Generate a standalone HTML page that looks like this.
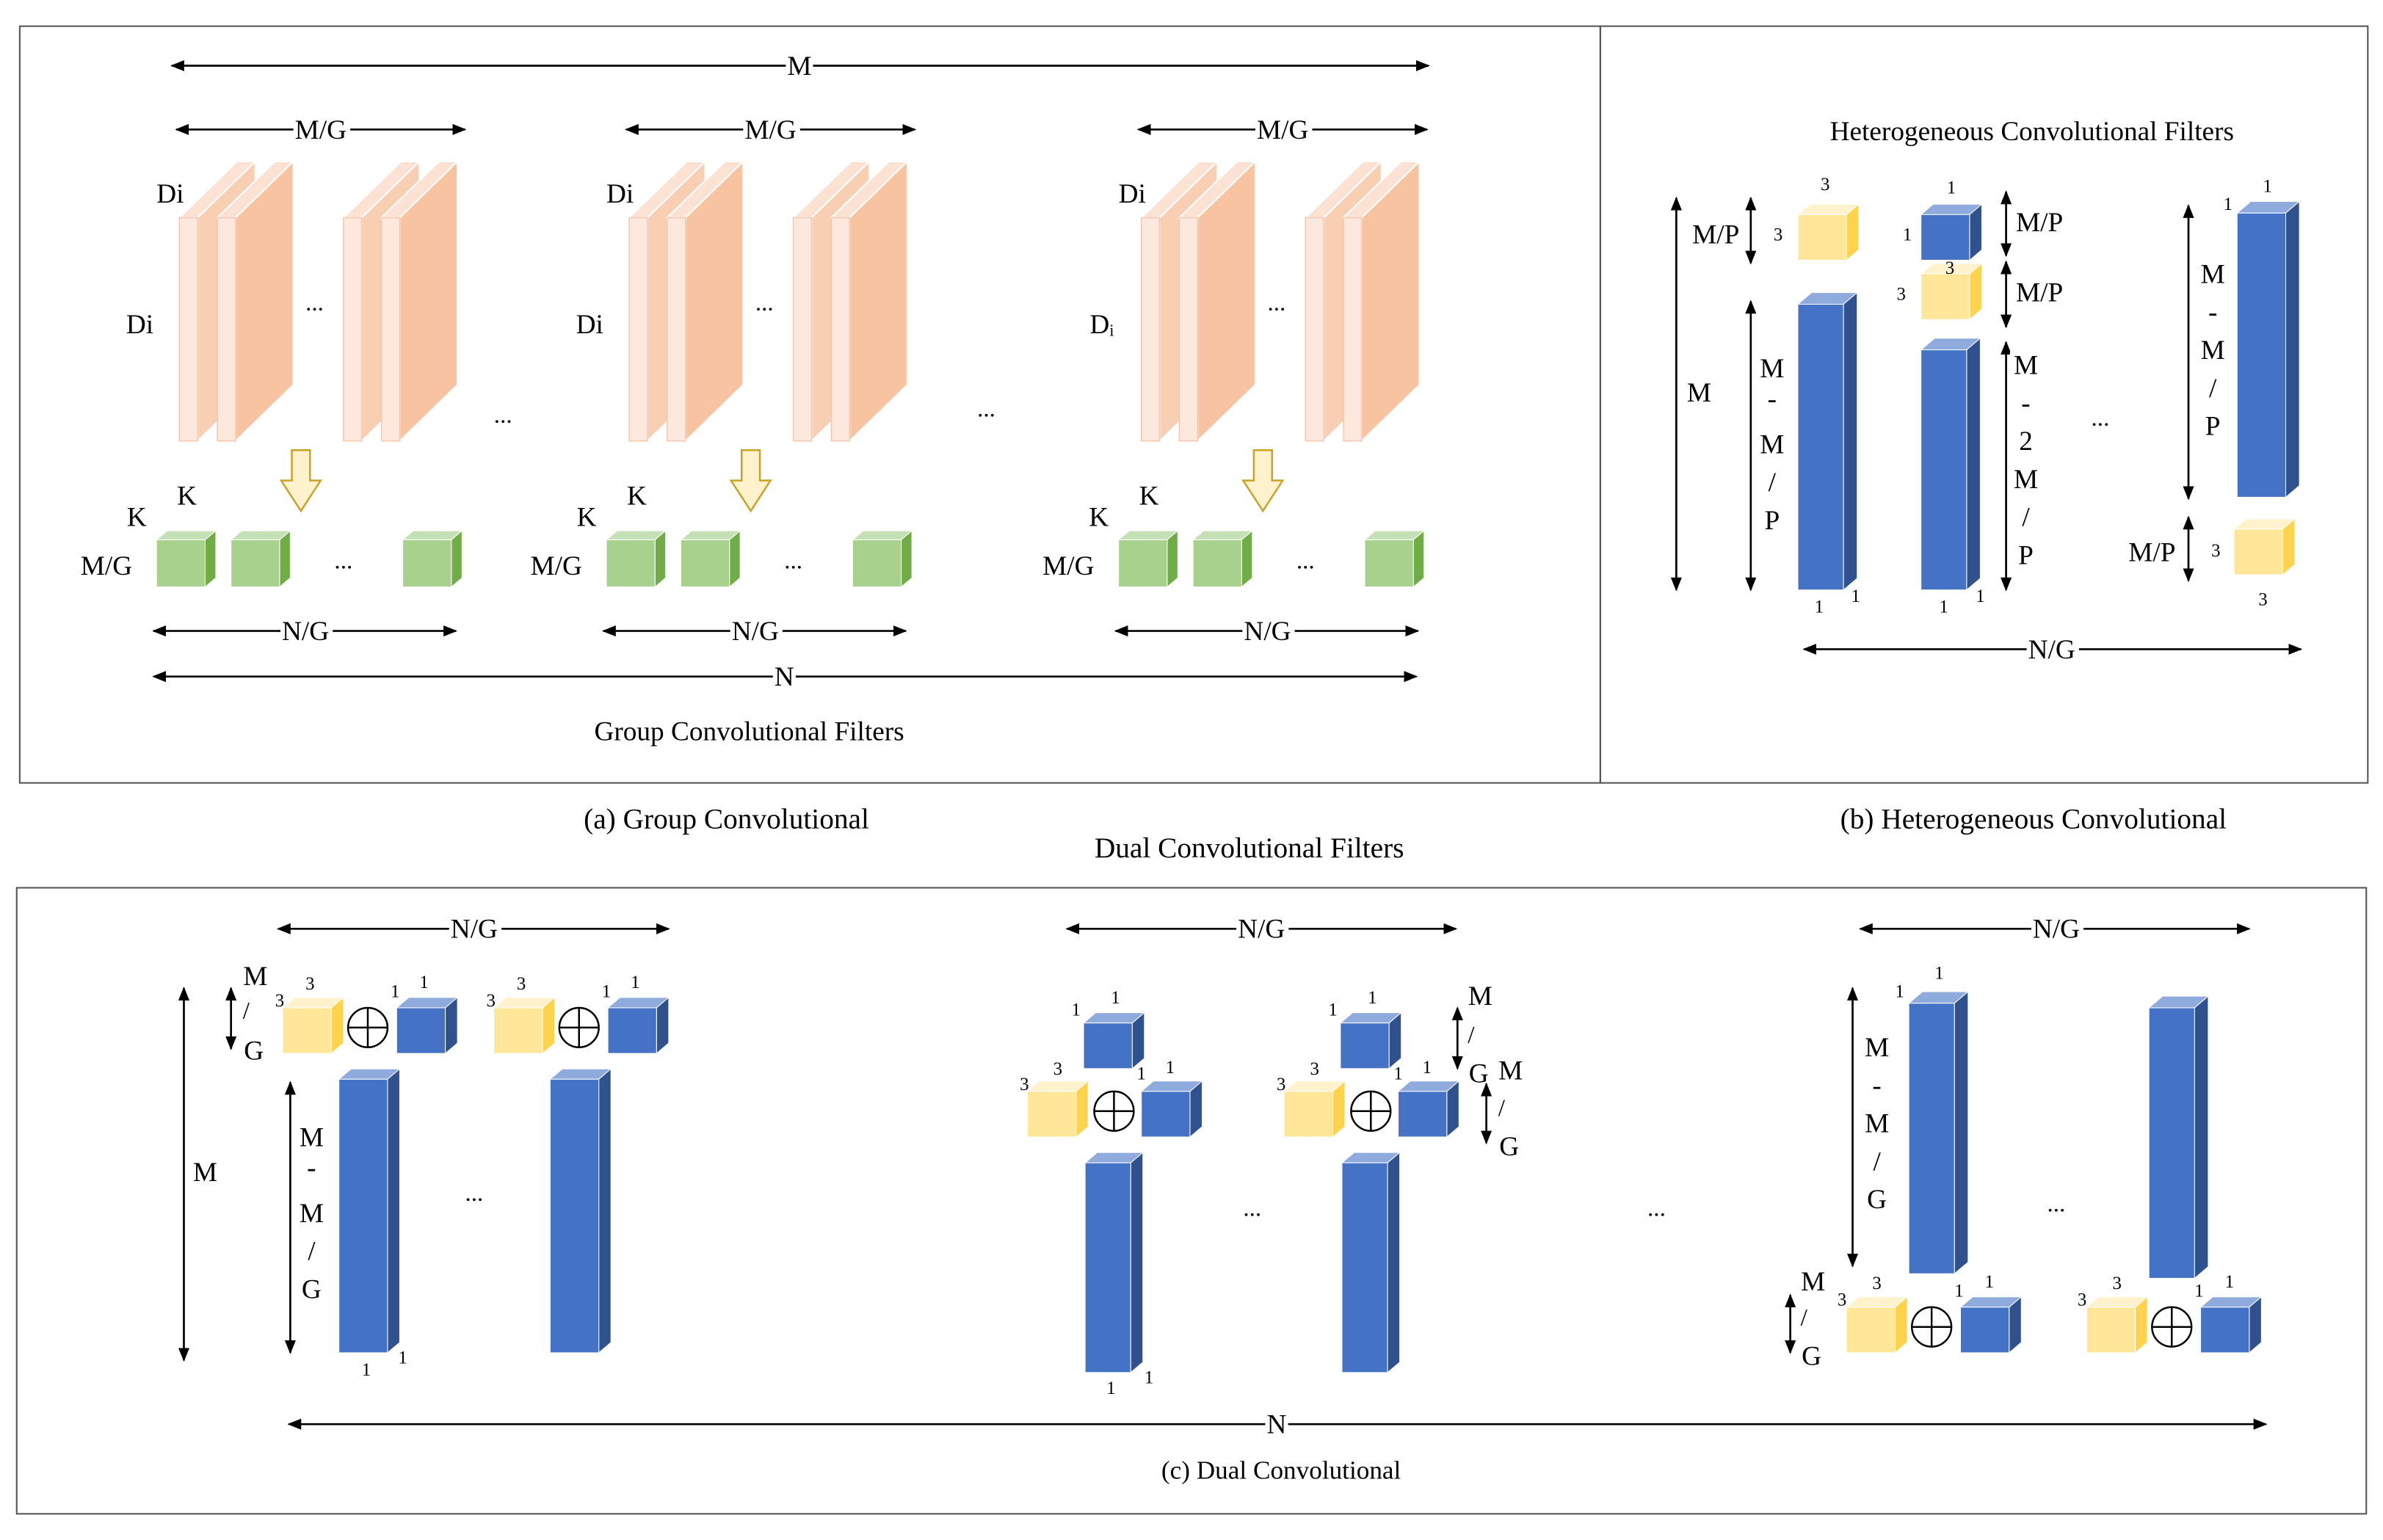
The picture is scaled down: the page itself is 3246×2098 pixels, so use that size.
<!DOCTYPE html>
<html><head><meta charset="utf-8"><style>
html,body{margin:0;padding:0;background:#fff}
svg{display:block}
text{font-family:"Liberation Serif",serif;fill:#000}
</style></head><body>
<svg id="fig" width="3246" height="2098" viewBox="0 0 1568 1013" xmlns="http://www.w3.org/2000/svg">
<defs>
<marker id="ah" viewBox="0 0 10 10" refX="9" refY="5" markerWidth="7" markerHeight="7" orient="auto-start-reverse"><path d="M0,1 L10,5 L0,9 z" fill="#000"/></marker>
</defs>
<rect x="13" y="17" width="1040" height="498" fill="none" stroke="#555" stroke-width="1"/>
<rect x="1053" y="17" width="505" height="498" fill="none" stroke="#555" stroke-width="1"/>
<rect x="11" y="584" width="1546" height="412" fill="none" stroke="#555" stroke-width="1"/>
<g id="g"></g>
</svg>
<script>
const NS="http://www.w3.org/2000/svg";
const root=document.getElementById('g');
function el(t,a,name){const e=document.createElementNS(NS,t);for(const k in a)e.setAttribute(k,a[k]);


root.appendChild(e);return e;}
function txt(x,y,s,size,anchor,name,halo){const a={x:x,y:y,'font-size':size||18,'text-anchor':anchor||'middle','font-family':'Liberation Serif, serif'};
if(halo){a.stroke='#fff';a['stroke-width']=6;a['paint-order']='stroke';}
const e=el('text',a,name||'label');e.textContent=s;return e;}
function arrow(x1,y1,x2,y2,name){return el('line',{x1:x1,y1:y1,x2:x2,y2:y2,stroke:'#000','stroke-width':1.3,'marker-start':'url(#ah)','marker-end':'url(#ah)'},name||'dimension-arrow');}
const C={blue:['#4472c4','#8faadc','#2f528f'],yel:['#ffe699','#fff2cc','#ffd34d'],grn:['#a9d18e','#c5e0b4','#70ad47']};
function cube(x,y,w,h,d,c,name){const [f,t,s]=C[c];const dy=d*0.85;
el('polygon',{points:`${x},${y} ${x+d},${y-dy} ${x+w+d},${y-dy} ${x+w},${y}`,fill:t,stroke:'#fff','stroke-width':0.5},name+'-top');
el('polygon',{points:`${x+w},${y} ${x+w+d},${y-dy} ${x+w+d},${y+h-dy} ${x+w},${y+h}`,fill:s,stroke:'#fff','stroke-width':0.5},name+'-side');
el('rect',{x:x,y:y,width:w,height:h,fill:f,stroke:'#fff','stroke-width':0.5},name);}
function oplus(cx,cy,name){el('circle',{cx:cx,cy:cy,r:13,fill:'#fff',stroke:'#000','stroke-width':1.2},name);
el('line',{x1:cx-13,y1:cy,x2:cx+13,y2:cy,stroke:'#000','stroke-width':1.2},name+'-h');
el('line',{x1:cx,y1:cy-13,x2:cx,y2:cy+13,stroke:'#000','stroke-width':1.2},name+'-v');}
function slab(x,y,last,name){
el('polygon',{points:`${x+12},${y} ${x+50},${y-37} ${x+50},${y+110} ${x+12},${y+147}`,fill:last?'#f8c3a0':'#f9cfb3',stroke:'#fff','stroke-width':1},name+'-side');
el('polygon',{points:`${x},${y} ${x+38},${y-37} ${x+50},${y-37} ${x+12},${y}`,fill:'#fbe2d3',stroke:'#fff','stroke-width':1},name+'-top');
el('rect',{x:x,y:y,width:12,height:147,fill:'#fce8dc',stroke:'#f3c7ae','stroke-width':0.7},name+'-front');}
function downArrow(x,y,name){el('polygon',{points:`${x-6},${y} ${x+6},${y} ${x+6},${y+20} ${x+13},${y+20} ${x},${y+40} ${x-13},${y+20} ${x-6},${y+20}`,fill:'#fff2cc',stroke:'#c9a227','stroke-width':1.2},name);}

// ---------- Panel (a)
arrow(113,43,940,43,'m-arrow');txt(526,49,'M',18,'middle','m-label',1);
const gx=[0,296,633];
gx.forEach((o,i)=>{
 arrow(116+o,85,306+o,85,'mg-arrow-'+i);txt(211+o,91,'M/G',18,'middle','mg-label-'+i,1);
 txt(112+o,133,'Di',18,'middle','di-top-'+i);txt(92+o,219,i==2?'Dᵢ':'Di',18,'middle','di-left-'+i);
 slab(118+o,143,false,'slab-a-'+i);slab(143+o,143,true,'slab-b-'+i);
 slab(226+o,143,false,'slab-c-'+i);slab(251+o,143,true,'slab-d-'+i);
 txt(207+o,204,'...',16,'middle','slab-ellipsis-'+i);
 downArrow(198+o,296,'down-arrow-'+i);
 txt(123+o,332,'K',18,'middle','k-top-'+i);txt(90+o,346,'K',18,'middle','k-left-'+i);txt(70+o,378,'M/G',18,'middle','mg-left-'+i);
 cube(103+o,355,32,31,7,'grn','green-cube-a-'+i);cube(152+o,355,32,31,7,'grn','green-cube-b-'+i);cube(265+o,355,32,31,7,'grn','green-cube-c-'+i);
 txt(226+o,374,'...',16,'middle','cube-ellipsis-'+i);
 arrow(101+o,415,300+o,415,'ng-arrow-'+i);txt(201+o,421,'N/G',18,'middle','ng-label-'+i,1);
});
txt(331,278,'...',16,'middle','group-ellipsis-1');txt(649,274,'...',16,'middle','group-ellipsis-2');
arrow(101,445,932,445,'n-arrow');txt(516,451,'N',18,'middle','n-label',1);
txt(493,487,'Group Convolutional Filters',18,'middle','group-filters-title');
txt(478,545,'(a) Group Convolutional',19,'middle','caption-a');

// ---------- Panel (b)
txt(1337,92,'Heterogeneous Convolutional Filters',18,'middle','hetero-title');
arrow(1103,130,1103,388,'b-m-arrow');txt(1118,264,'M',18,'middle','b-m-label');
arrow(1152,130,1152,173,'b-mp-arrow');txt(1129,160,'M/P',18,'middle','b-mp-label');
cube(1183,141,32,30,8,'yel','b-yellow-1');txt(1201,125,'3',12,'middle','n');txt(1170,158,'3',12,'middle','n');
arrow(1152,198,1152,388,'b-mmp-arrow');
['M','-','M','/','P'].forEach((s,i)=>txt(1166,248+i*50-(s=='-'?20:0)-i*25+(s=='-'?20:0)-(s=='-'?5:0),s,18,'middle','b-mmp-'+i,1));
cube(1183,200,30,188,9,'blue','b-blue-col-1');txt(1197,403,'1',12,'middle','n');txt(1221,396,'1',12,'middle','n');
cube(1264,141,32,30,8,'blue','b-blue-small');txt(1284,127,'1',12,'middle','n');txt(1255,158,'1',12,'middle','n');
cube(1264,180,32,30,8,'yel','b-yellow-2');txt(1283,180,'3',12,'middle','n');txt(1251,197,'3',12,'middle','n');
arrow(1320,126,1320,168,'b-mp2-arrow');txt(1342,152,'M/P',18,'middle','b-mp2-label');
arrow(1320,172,1320,215,'b-mp3-arrow');txt(1342,198,'M/P',18,'middle','b-mp3-label');
cube(1264,230,30,158,9,'blue','b-blue-col-2');txt(1279,403,'1',12,'middle','n');txt(1303,396,'1',12,'middle','n');
arrow(1320,225,1320,388,'b-m2mp-arrow');
['M','-','2','M','/','P'].forEach((s,i)=>txt(1333,246+i*25,s,18,'middle','b-m2mp-'+i,1));
txt(1382,280,'...',16,'middle','b-ellipsis');
arrow(1440,135,1440,328,'b-m-mp-arrow');
['M','-','M','/','P'].forEach((s,i)=>txt(1456,186+i*25,s,18,'middle','b-m-mp-'+i));
cube(1472,140,32,187,9,'blue','b-blue-col-3');txt(1466,138,'1',12,'middle','n');txt(1492,126,'1',12,'middle','n');
cube(1470,348,32,30,8,'yel','b-yellow-3');txt(1458,366,'3',12,'middle','n');txt(1489,398,'3',12,'middle','n');
arrow(1440,340,1440,382,'b-mp4-arrow');txt(1416,369,'M/P',18,'middle','b-mp4-label');
arrow(1187,427,1514,427,'b-ng-arrow');txt(1350,433,'N/G',18,'middle','b-ng-label',1);
txt(1338,545,'(b) Heterogeneous Convolutional',19,'middle','caption-b');

// ---------- Panel (c)
txt(822,564,'Dual Convolutional Filters',19,'middle','dual-title');
[[183,440,312],[702,958,830],[1224,1480,1353]].forEach((a,i)=>{arrow(a[0],611,a[1],611,'c-ng-arrow-'+i);txt(a[2],617,'N/G',18,'middle','c-ng-label-'+i,1);});
// group 1
arrow(121,650,121,895,'c-m-arrow');txt(135,777,'M',18,'middle','c-m-label');
arrow(152,650,152,690,'c-mg-arrow');txt(168,648,'M',18,'middle','n');txt(162,670,'/',16,'middle','n');txt(167,697,'G',18,'middle','n');
[186,325].forEach((x,i)=>{cube(x,663,32,30,8,'yel','c1-yellow-'+i);oplus(x+56,676,'c1-oplus-'+i);cube(x+75,663,32,30,8,'blue','c1-blue-'+i);
 txt(x-2,662,'3',12,'middle','n');txt(x+18,651,'3',12,'middle','n');txt(x+74,656,'1',12,'middle','n');txt(x+93,650,'1',12,'middle','n');});
cube(223,710,32,180,8,'blue','c1-col-1');cube(362,710,32,180,8,'blue','c1-col-2');
txt(241,905,'1',12,'middle','n');txt(265,897,'1',12,'middle','n');
arrow(191,712,191,890,'c-mmg-arrow');['M','-','M','/','G'].forEach((s,i)=>txt(205,754+i*25-(s=='-'?5:0),s,18,'middle','c1-mmg-'+i,1));
txt(312,790,'...',16,'middle','c1-ellipsis');
// group 2
[676,845].forEach((x,i)=>{cube(x+37,673,32,30,8,'blue','c2-topblue-'+i);cube(x,718,32,30,8,'yel','c2-yellow-'+i);oplus(x+57,731,'c2-oplus-'+i);cube(x+75,718,32,30,8,'blue','c2-blue-'+i);
 cube(x+38,765,30,138,8,'blue','c2-col-'+i);
 txt(x+32,668,'1',12,'middle','n');txt(x+58,660,'1',12,'middle','n');txt(x-2,717,'3',12,'middle','n');txt(x+20,707,'3',12,'middle','n');txt(x+75,710,'1',12,'middle','n');txt(x+94,706,'1',12,'middle','n');});
txt(731,917,'1',12,'middle','n');txt(756,910,'1',12,'middle','n');
txt(824,800,'...',16,'middle','c2-ellipsis');
arrow(959,663,959,703,'c2-mg-arrow-1');arrow(978,713,978,752,'c2-mg-arrow-2');
txt(974,661,'M',18,'middle','n');txt(968,686,'/',16,'middle','n');txt(973,712,'G',18,'middle','n');txt(994,710,'M',18,'middle','n');txt(988,734,'/',16,'middle','n');txt(993,760,'G',18,'middle','n');
txt(1090,800,'...',16,'middle','c-group-ellipsis');
// group 3
arrow(1219,650,1219,833,'c3-mmg-arrow');['M','-','M','/','G'].forEach((s,i)=>txt(1235,695+i*25,s,18,'middle','c3-mmg-'+i,1));
cube(1256,660,30,178,9,'blue','c3-col-1');cube(1414,663,30,178,9,'blue','c3-col-2');
txt(1250,656,'1',12,'middle','n');txt(1276,644,'1',12,'middle','n');
[1215,1373].forEach((x,i)=>{cube(x,860,32,30,8,'yel','c3-yellow-'+i);oplus(x+56,873,'c3-oplus-'+i);cube(x+75,860,32,30,8,'blue','c3-blue-'+i);
 txt(x-3,859,'3',12,'middle','n');txt(x+20,848,'3',12,'middle','n');txt(x+74,853,'1',12,'middle','n');txt(x+94,847,'1',12,'middle','n');});
txt(1353,797,'...',16,'middle','c3-ellipsis');
arrow(1178,852,1178,890,'c3-mg-arrow');txt(1193,849,'M',18,'middle','n');txt(1187,872,'/',16,'middle','n');txt(1192,898,'G',18,'middle','n');
arrow(190,937,1491,937,'c-n-arrow');txt(840,943,'N',18,'middle','c-n-label',1);
txt(843,973,'(c) Dual Convolutional',17,'middle','caption-c');
</script>
</body></html>
